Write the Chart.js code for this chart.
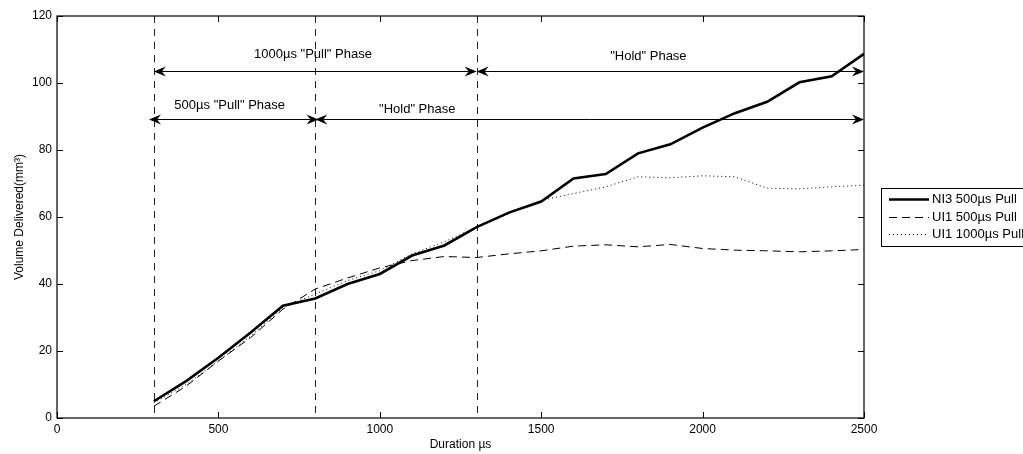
<!DOCTYPE html>
<html>
<head>
<meta charset="utf-8">
<title>Volume Delivered</title>
<script src="https://cdn.jsdelivr.net/npm/chart.js@4/dist/chart.umd.min.js"></script>
<style>
  html, body { margin: 0; padding: 0; background: #fff; }
  #wrap { width: 1023px; height: 454px; }
</style>
</head>
<body>
<div id="wrap"><canvas id="volChart" width="1023" height="454"></canvas></div>
<script>
// données (µs / mm3)
const durations = [300, 400, 500, 600, 700, 800, 900, 1000, 1100, 1200, 1300, 1400,
  1500, 1600, 1700, 1800, 1900, 2000, 2100, 2200, 2300, 2400, 2500];
const ni3Pull500 = [5, 11, 18, 25.5, 33.5, 35.7, 40, 43, 48.5, 51.5, 57, 61.3,
  64.6, 71.5, 72.8, 79, 81.7, 86.7, 91, 94.4, 100.2, 102, 108.7];
const ui1Pull500 = [3.5, 9.5, 17, 24, 32.5, 38.5, 41.8, 44.8, 47, 48.2, 47.9, 49,
  49.9, 51.3, 51.7, 51.1, 51.8, 50.6, 50.1, 49.9, 49.6, 49.9, 50.3];
const ui1Pull1000 = [4.5, 10, 17, 24.5, 33, 37, 41, 44, 49, 52.6, 57, 61,
  65, 67, 69, 72, 71.7, 72.3, 72, 68.6, 68.4, 69, 69.5];
const seriesNames = ['NI3 500\u00b5s Pull', 'UI1 500\u00b5s Pull', 'UI1 1000\u00b5s Pull'];
const xTicks = [0, 500, 1000, 1500, 2000, 2500];
const yTicks = [0, 20, 40, 60, 80, 100, 120];

// limites de phase + flèches (en unités des axes)
const phaseLines = [300, 800, 1300];
const phaseArrows = [
  { from: 300, to: 1300, y: 103.6, text: '1000\u00b5s "Pull" Phase', tx: 793, ty: 108.4 },
  { from: 1300, to: 2500, y: 103.6, text: '"Hold" Phase', tx: 1832, ty: 107.8 },
  { from: 285, to: 810, y: 89.4, text: '500\u00b5s "Pull" Phase', tx: 535, ty: 93.4 },
  { from: 800, to: 2500, y: 89.4, text: '"Hold" Phase', tx: 1116, ty: 92.1 }
];

const FONT = '"Liberation Sans", Arial, Helvetica, sans-serif';
Chart.defaults.font.family = FONT;
Chart.defaults.color = '#000';

const toPoints = vals => durations.map((d, i) => ({ x: d, y: vals[i] }));

const styles = [
  { borderWidth: 2.6, borderDash: [] },
  { borderWidth: 1, borderDash: [8, 5] },
  { borderWidth: 1, borderDash: [1, 3] }
];

function drawArrowHead(ctx, x, y, dir) {
  // pointe style "vback" (dos creusé)
  ctx.beginPath();
  ctx.moveTo(x, y);
  ctx.lineTo(x - dir * 12, y - 5);
  ctx.lineTo(x - dir * 8, y);
  ctx.lineTo(x - dir * 12, y + 5);
  ctx.closePath();
  ctx.fill();
}

const phasePlugin = {
  id: 'phases',
  beforeDatasetsDraw(chart) {
    const { ctx, scales: { x, y } } = chart;
    ctx.save();
    ctx.strokeStyle = '#222';
    ctx.lineWidth = 1;
    ctx.setLineDash([7, 6]);
    phaseLines.forEach(v => {
      const px = Math.round(x.getPixelForValue(v)) + 0.5;
      ctx.beginPath();
      ctx.moveTo(px, y.getPixelForValue(120));
      ctx.lineTo(px, y.getPixelForValue(0));
      ctx.stroke();
    });
    ctx.restore();
  },
  afterDatasetsDraw(chart) {
    const { ctx, scales: { x, y } } = chart;
    ctx.save();
    ctx.strokeStyle = '#000';
    ctx.fillStyle = '#000';
    ctx.lineWidth = 1;
    phaseArrows.forEach(a => {
      const x1 = x.getPixelForValue(a.from), x2 = x.getPixelForValue(a.to);
      const py = Math.round(y.getPixelForValue(a.y)) + 0.5;
      ctx.beginPath();
      ctx.moveTo(x1 + 8, py);
      ctx.lineTo(x2 - 8, py);
      ctx.stroke();
      drawArrowHead(ctx, x1, py, -1);
      drawArrowHead(ctx, x2, py, 1);
      ctx.font = '13px ' + FONT;
      ctx.textAlign = 'center';
      ctx.textBaseline = 'middle';
      ctx.fillText(a.text, x.getPixelForValue(a.tx), y.getPixelForValue(a.ty));
    });
    ctx.restore();
  }
};

// cadre + graduations vers l'intérieur (style matlab) + légende
const framePlugin = {
  id: 'frame',
  afterDraw(chart) {
    const { ctx, chartArea: ca, scales: { x, y } } = chart;
    ctx.save();
    ctx.strokeStyle = '#000';
    ctx.lineWidth = 1.2;
    ctx.strokeRect(ca.left, ca.top, ca.right - ca.left, ca.bottom - ca.top);
    ctx.lineWidth = 1;
    xTicks.forEach(v => {
      const px = Math.round(x.getPixelForValue(v)) + 0.5;
      ctx.beginPath();
      ctx.moveTo(px, ca.bottom); ctx.lineTo(px, ca.bottom - 6);
      ctx.moveTo(px, ca.top); ctx.lineTo(px, ca.top + 6);
      ctx.stroke();
    });
    yTicks.forEach(v => {
      const py = Math.round(y.getPixelForValue(v)) + 0.5;
      ctx.beginPath();
      ctx.moveTo(ca.left, py); ctx.lineTo(ca.left + 6, py);
      ctx.moveTo(ca.right, py); ctx.lineTo(ca.right - 6, py);
      ctx.stroke();
    });

    // légende
    const lx = 881, ly = 188, rowH = 17.5;
    ctx.lineWidth = 1;
    ctx.strokeRect(lx + 0.5, ly + 0.5, 200, 58);
    ctx.font = '13px ' + FONT;
    ctx.textAlign = 'left';
    ctx.textBaseline = 'middle';
    seriesNames.forEach((name, i) => {
      const ry = Math.round(ly + 11 + i * rowH) + 0.5;
      ctx.lineWidth = styles[i].borderWidth;
      ctx.setLineDash(styles[i].borderDash);
      ctx.beginPath();
      ctx.moveTo(889, ry); ctx.lineTo(929, ry);
      ctx.stroke();
      ctx.setLineDash([]);
      ctx.fillText(name, 932, ry);
    });
    ctx.restore();
  }
};

new Chart(document.getElementById('volChart'), {
  type: 'line',
  data: {
    datasets: [ni3Pull500, ui1Pull500, ui1Pull1000].map((vals, i) => ({
      label: seriesNames[i],
      data: toPoints(vals),
      borderColor: '#000',
      borderWidth: styles[i].borderWidth,
      borderDash: styles[i].borderDash,
      pointRadius: 0,
      tension: 0,
      fill: false,
      order: i
    }))
  },
  options: {
    responsive: false,
    animation: false,
    devicePixelRatio: 1,
    layout: { padding: { top: 16, right: 159, left: 0, bottom: 0 } },
    plugins: { legend: { display: false }, tooltip: { enabled: false } },
    scales: {
      x: {
        type: 'linear', min: 0, max: 2500,
        afterBuildTicks: s => { s.ticks = xTicks.map(v => ({ value: v })); },
        afterFit: s => { s.height = 36; },
        grid: { display: false, drawTicks: false },
        border: { display: false },
        ticks: { font: { size: 12 }, padding: 4, maxRotation: 0, callback: v => String(v) },
        title: { display: true, text: 'Duration \u00b5s', font: { size: 12 }, padding: { top: 0, bottom: 2 } }
      },
      y: {
        type: 'linear', min: 0, max: 120,
        afterBuildTicks: s => { s.ticks = yTicks.map(v => ({ value: v })); },
        afterFit: s => { s.width = 57; },
        grid: { display: false, drawTicks: false },
        border: { display: false },
        ticks: { font: { size: 12 }, padding: 5, callback: v => String(v) },
        title: { display: true, text: 'Volume Delivered(mm\u00b3)', font: { size: 12 }, padding: { top: 12, bottom: 0 } }
      }
    }
  },
  plugins: [phasePlugin, framePlugin]
});
</script>
</body>
</html>
